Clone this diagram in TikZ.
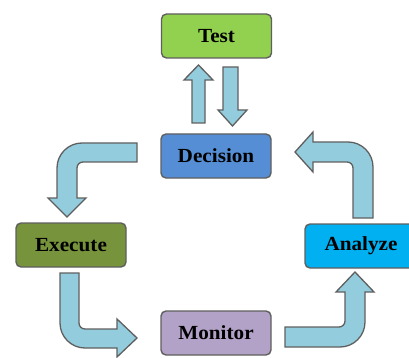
\documentclass[tikz,border=0pt]{standalone}
\usepackage{fontspec}
\setmainfont{Liberation Serif}[FakeStretch=1.06]
\begin{document}
\begin{tikzpicture}[x=1pt,y=-1pt,
  stage/.style={draw=boxline,line width=1.4pt,rounded corners=5pt,
    minimum width=110pt,minimum height=44pt,inner sep=0pt,
    font=\fontsize{20}{23}\selectfont\bfseries,text=black},
  blockarrow/.style={draw=arrowline,line width=1.3pt,fill=arrowfill,line join=miter}]
\definecolor{boxline}{HTML}{5F5F5F}
\definecolor{arrowline}{HTML}{5F5F5F}
\definecolor{arrowfill}{HTML}{93CDDD}
\definecolor{testfill}{HTML}{92D050}
\definecolor{decfill}{HTML}{558ED5}
\definecolor{exefill}{HTML}{77933C}
\definecolor{monfill}{HTML}{B3A2C7}
\definecolor{anafill}{HTML}{00B0F0}
\useasboundingbox (0,0) rectangle (409,358);

% stages of the cycle
\node[stage,fill=testfill] (test) at (216.5,36) {Test};
\node[stage,fill=decfill]  (dec)  at (216,156) {Decision};
\node[stage,fill=exefill]  (exe)  at (71,245) {Execute};
\node[stage,fill=monfill]  (mon)  at (216,333) {Monitor};
\node[stage,fill=anafill,minimum width=112pt] (ana) at (361,246) {Analyze};

% Decision -> Test (up)
\draw[blockarrow] (192,123) -- (192,80) -- (184,80) -- (198.5,65) -- (213,80)
  -- (205,80) -- (205,123) -- cycle;
% Test -> Decision (down)
\draw[blockarrow] (223,67) -- (238,67) -- (238,110) -- (247,110) -- (232.5,126)
  -- (218,110) -- (223,110) -- cycle;

% Decision -> Execute
\draw[blockarrow] (137,143) -- (82,143) .. controls (68.2,143) and (57,154.2) .. (57,168)
  -- (57,198) -- (48,198) -- (67,217) -- (86,198) -- (77,198) -- (77,168)
  .. controls (77,164.7) and (79.7,162) .. (83,162) -- (137,162) -- cycle;

% Execute -> Monitor
\draw[blockarrow] (60,273) -- (60,323) .. controls (60,336.8) and (71.2,348) .. (85,348)
  -- (117,348) -- (117,357) -- (137,338) -- (117,319) -- (117,329) -- (85,329)
  .. controls (81.7,329) and (79,326.3) .. (79,323) -- (79,273) -- cycle;

% Monitor -> Analyze
\draw[blockarrow] (285,327) -- (339,327) .. controls (342.3,327) and (345,324.3) .. (345,321)
  -- (345,292) -- (336,292) -- (355,272) -- (374,292) -- (365,292) -- (365,322)
  .. controls (365,335.8) and (353.8,347) .. (340,347) -- (285,347) -- cycle;

% Analyze -> Decision
\draw[blockarrow] (353,218) -- (353,168) .. controls (353,164.7) and (350.3,162) .. (347,162)
  -- (313,162) -- (313,172) -- (295,152) -- (313,132) -- (313,142) -- (348,142)
  .. controls (361.8,142) and (373,153.2) .. (373,167) -- (373,218) -- cycle;
\end{tikzpicture}
\end{document}
